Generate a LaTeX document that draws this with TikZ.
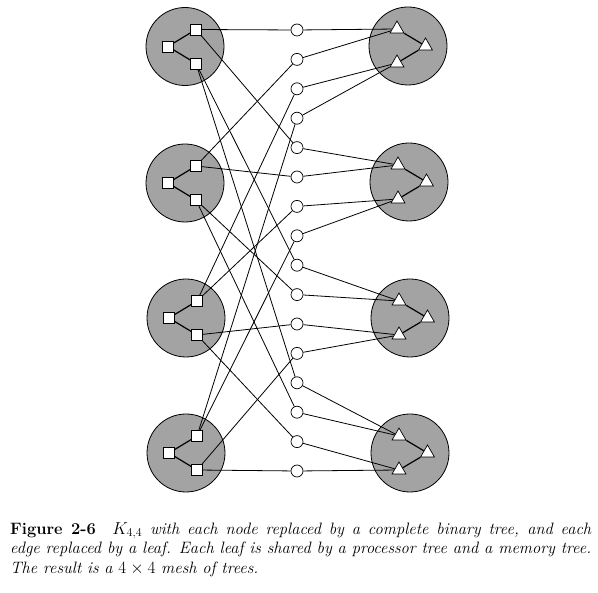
\documentclass[tikz,border=0pt]{standalone}
\usetikzlibrary{shapes.geometric}
\begin{document}
\begin{tikzpicture}[x=1pt,y=-1pt,
  tree/.style={circle,draw=black,fill=black!36,line width=0.8pt,minimum size=78pt,inner sep=0pt},
  sq/.style={rectangle,draw=black,fill=white,line width=0.7pt,minimum size=11pt,inner sep=0pt},
  tri/.style={regular polygon,regular polygon sides=3,draw=black,fill=white,line width=0.7pt,minimum size=16pt,inner sep=0pt},
  leaf/.style={circle,draw=black,fill=white,line width=0.7pt,minimum size=12pt,inner sep=0pt},
  conn/.style={line width=0.8pt},
  tedge/.style={line width=1.2pt}]
\useasboundingbox (0,0) rectangle (598,593);
% processor trees (left)
\foreach \i/\x/\y in {1/185/46.5, 2/185/183, 3/186/318, 4/186/453} {
  \node[tree] (P\i) at (\x,\y) {};
  \node[sq] (Pr\i) at (\x-17,\y) {};
  \node[sq] (Pu\i) at (\x+11,\y-17) {};
  \node[sq] (Pd\i) at (\x+11,\y+17) {};
  \draw[tedge] (Pr\i) -- (Pu\i);
  \draw[tedge] (Pr\i) -- (Pd\i);
}
% memory trees (right)
\foreach \j/\x/\y in {1/408/46, 2/409/182, 3/410/318, 4/410/453} {
  \node[tree] (Q\j) at (\x,\y) {};
  \node[tri] (Qr\j) at (\x+17.5,\y) {};
  \node[tri] (Qu\j) at (\x-11,\y-17) {};
  \node[tri] (Qd\j) at (\x-11,\y+17) {};
  \draw[tedge] (Qr\j) -- (Qu\j);
  \draw[tedge] (Qr\j) -- (Qd\j);
}
% shared leaves
\foreach \k in {1,...,16} {
  \node[leaf] (M\k) at (297,{30+(\k-1)*29.4}) {};
}
% processor connections
\foreach \i in {1,...,4} {
  \pgfmathtruncatemacro\a{\i}
  \pgfmathtruncatemacro\b{\i+4}
  \pgfmathtruncatemacro\c{\i+8}
  \pgfmathtruncatemacro\d{\i+12}
  \draw[conn] (Pu\i) -- (M\a);
  \draw[conn] (Pu\i) -- (M\b);
  \draw[conn] (Pd\i) -- (M\c);
  \draw[conn] (Pd\i) -- (M\d);
}
% memory connections
\foreach \j in {1,...,4} {
  \pgfmathtruncatemacro\a{4*\j-3}
  \pgfmathtruncatemacro\b{4*\j-2}
  \pgfmathtruncatemacro\c{4*\j-1}
  \pgfmathtruncatemacro\d{4*\j}
  \draw[conn] (M\a) -- (Qu\j);
  \draw[conn] (M\b) -- (Qu\j);
  \draw[conn] (M\c) -- (Qd\j);
  \draw[conn] (M\d) -- (Qd\j);
}
% caption
\node[anchor=north west,text width=581pt,align=justify,inner sep=0pt,
  font=\fontsize{16.5}{19.7}\selectfont] (cap) at (10,520.2)
  {\strut\textbf{Figure 2-6}\quad\textit{$K_{4,4}$ with each node replaced by a complete binary tree, and each\linebreak edge replaced by a leaf. Each leaf is shared by a processor tree and a memory tree.\linebreak The result is a $4\times4$ mesh of trees.}};
\end{tikzpicture}
\end{document}
